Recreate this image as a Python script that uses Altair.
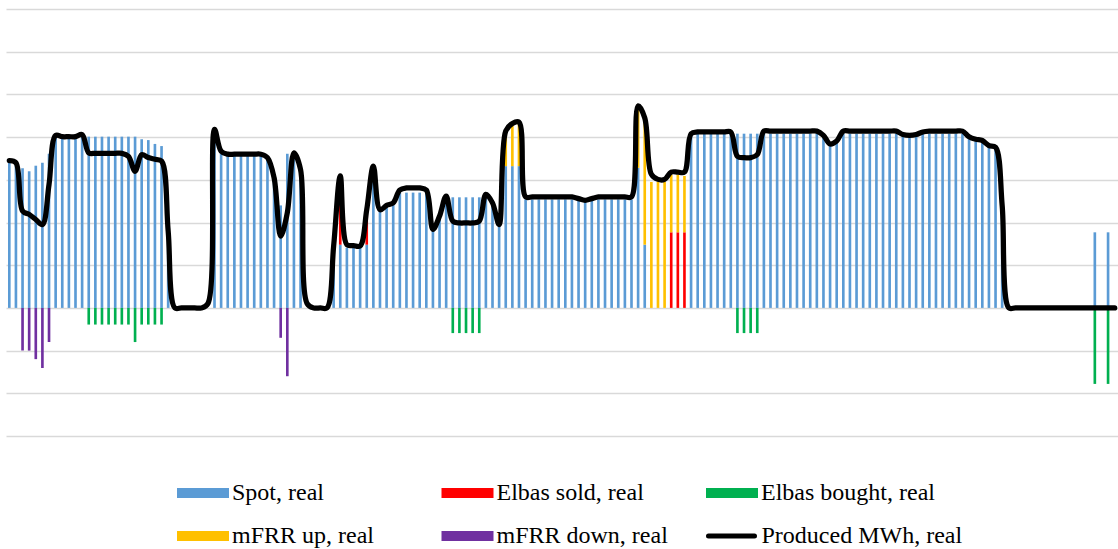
import altair as alt
import pandas as pd

# Series names (legend order) and their colours
SERIES = ["Spot, real", "Elbas sold, real", "Elbas bought, real",
          "mFRR up, real", "mFRR down, real", "Produced MWh, real"]
COLORS = ["#5B9BD5", "#FF0000", "#00B050", "#FFC000", "#7030A0", "#000000"]

HOURS = list(range(168))

# Hourly spot volume
spot = [
    34.8, 34.0, 32.7, 32.0, 33.3, 34.0, 36.1, 40.1, 40.1, 40.1,
    40.1, 40.1, 40.1, 40.1, 40.1, 40.1, 40.1, 40.1, 40.1, 40.1,
    39.5, 39.3, 38.4, 37.9, 18.0, 0.0, 0.0, 0.0, 0.0, 0.0,
    0.0, 41.5, 36.1, 36.1, 36.1, 36.1, 36.1, 36.1, 36.1, 35.5,
    30.5, 24.0, 36.1, 36.3, 32.4, 0.0, 0.0, 0.0, 0.0, 14.5,
    14.8, 14.1, 14.1, 14.1, 14.8, 33.2, 23.0, 24.0, 24.6, 27.0,
    27.0, 27.0, 27.0, 27.0, 18.4, 21.5, 26.0, 25.9, 25.9, 25.9,
    25.9, 25.9, 26.0, 24.6, 19.5, 33.2, 33.2, 33.2, 25.4, 25.4,
    25.4, 25.4, 25.4, 25.4, 25.4, 25.4, 25.4, 25.4, 25.4, 25.4,
    25.4, 25.4, 25.4, 25.4, 25.4, 32.8, 14.8, 0.0, 0.0, 0.0,
    0.0, 0.0, 0.0, 40.8, 40.8, 40.8, 40.8, 40.8, 40.8, 40.8,
    40.8, 40.8, 40.8, 40.8, 40.8, 40.8, 40.8, 40.8, 40.8, 40.8,
    40.8, 40.8, 40.8, 40.0, 38.4, 39.0, 40.8, 40.8, 40.8, 40.8,
    40.8, 40.8, 40.8, 40.8, 40.8, 40.8, 40.8, 40.8, 40.8, 40.8,
    40.8, 40.8, 40.8, 40.8, 40.8, 40.0, 39.0, 38.6, 38.2, 37.8,
    22.0, 0.0, 0.0, 0.0, 0.0, 0.0, 0.0, 0.0, 0.0, 0.0,
    0.0, 0.0, 0.0, 0.0, 17.7, 0.0, 17.7, 0.0,
]

# Intraday and balancing volumes, by hour
elbas_sold = {50: 14.0, 54: 8.2, 100: 17.7, 101: 17.7, 102: 17.7}
elbas_bought = {
    12: -3.9, 13: -3.9, 14: -3.9, 15: -3.9, 16: -3.9, 17: -3.9, 18: -3.9,
    19: -8.0, 20: -3.9, 21: -3.9, 22: -3.9, 23: -3.9,
    67: -5.9, 68: -5.9, 69: -5.9, 70: -5.9, 71: -5.9,
    110: -5.9, 111: -5.9, 112: -5.9, 113: -5.9,
    164: -17.8, 166: -17.8,
}
mfrr_up = {75: 8.0, 76: 10.0, 77: 10.2, 95: 14.5, 96: 29.7, 97: 29.5,
           98: 29.5, 99: 29.5, 100: 13.5, 101: 13.5, 102: 13.2}
mfrr_down = {2: -10.0, 3: -10.0, 4: -12.0, 5: -14.1, 6: -8.0,
             41: -7.0, 42: -16.0}

# Hourly production
produced = [
    34.5, 34.0, 22.7, 21.9, 20.7, 19.5, 28.9, 40.4, 40.1, 40.1,
    40.1, 40.6, 36.3, 36.2, 36.2, 36.2, 36.2, 36.2, 35.5, 32.0,
    35.9, 35.2, 34.8, 34.4, 18.0, 0.0, 0.0, 0.0, 0.0, 0.0,
    1.0, 41.8, 36.7, 36.0, 36.0, 36.0, 36.0, 36.0, 36.0, 35.2,
    30.5, 16.8, 22.3, 36.3, 32.4, 1.0, 0.0, 0.0, 0.0, 14.5,
    30.9, 14.8, 14.6, 14.5, 23.0, 33.2, 23.0, 24.0, 24.6, 27.6,
    28.1, 28.1, 28.1, 27.6, 18.4, 21.5, 26.2, 20.3, 19.9, 19.9,
    19.9, 20.3, 26.6, 24.6, 19.5, 41.4, 43.2, 43.5, 26.0, 26.0,
    26.0, 26.0, 26.0, 26.0, 26.0, 26.0, 25.6, 25.2, 25.6, 26.0,
    26.0, 26.0, 26.0, 26.0, 26.0, 47.3, 44.5, 31.3, 30.1, 30.1,
    31.8, 31.8, 31.8, 40.8, 41.2, 41.2, 41.2, 41.2, 41.2, 41.2,
    35.5, 35.2, 35.2, 35.9, 41.4, 41.4, 41.4, 41.4, 41.4, 41.4,
    41.4, 41.4, 41.4, 40.4, 38.4, 39.1, 41.4, 41.4, 41.4, 41.4,
    41.4, 41.4, 41.4, 41.4, 41.4, 40.6, 40.4, 40.6, 41.2, 41.4,
    41.4, 41.4, 41.4, 41.4, 41.4, 40.1, 39.5, 39.2, 38.0, 37.6,
    24.0, 0.0, 0.0, 0.0, 0.0, 0.0, 0.0, 0.0, 0.0, 0.0,
    0.0, 0.0, 0.0, 0.0, 0.0, 0.0, 0.0, 0.0,
]

# Horizontal gridlines
GRID_VALUES = [-30, -20, -10, 0, 10, 20, 30, 40, 50, 60, 70]

# Long table for the stacked columns
rows = [{"hour": h, "series": SERIES[0], "value": v, "order": 0}
        for h, v in zip(HOURS, spot)]
for k, series in ((1, elbas_sold), (2, elbas_bought), (3, mfrr_up), (4, mfrr_down)):
    rows += [{"hour": h, "series": SERIES[k], "value": v, "order": k}
             for h, v in series.items()]
bars_df = pd.DataFrame(rows)
line_df = pd.DataFrame({"hour": HOURS, "produced": produced, "series": SERIES[5]})

x_enc = alt.X("hour:O",
              scale=alt.Scale(domain=HOURS, paddingInner=0.6, paddingOuter=0.3),
              axis=None)
y_scale = alt.Scale(domain=[GRID_VALUES[0], GRID_VALUES[-1]], nice=False, zero=False)

# Legend swatches: a wide flat box for the columns, a rounded bar for the line
BOX = "M-5.2,-1H5.2V1H-5.2Z"
PILL = "M-4.6,-0.25H4.6A0.25,0.25 0 0 1 4.6,0.25H-4.6A0.25,0.25 0 0 1 -4.6,-0.25Z"
LABEL_STYLE = dict(labelFont="Liberation Serif", labelFontSize=24,
                   labelColor="#000000", labelLimit=0)

bar_legend = alt.Legend(
    title=None, orient="none", legendX=171, legendY=472,
    columns=3, direction="horizontal", gridAlign="all", padding=0,
    symbolSize=100, symbolType=BOX, symbolOffset=14, symbolStrokeWidth=0,
    labelOffset=17, columnPadding=35.5, rowPadding=19, **LABEL_STYLE,
)
line_legend = alt.Legend(
    title=None, orient="none", legendX=700, legendY=515, padding=0,
    symbolSize=100, symbolType=PILL, symbolOffset=13.5, symbolStrokeWidth=2.5,
    labelOffset=18, **LABEL_STYLE,
)

bars = alt.Chart(bars_df).mark_bar().encode(
    x=x_enc,
    y=alt.Y("value:Q", stack="zero", scale=y_scale,
            axis=alt.Axis(values=GRID_VALUES, grid=True, labels=False, ticks=False,
                          domain=False, title=None, gridColor="#D9D9D9",
                          gridWidth=1.6)),
    color=alt.Color("series:N", scale=alt.Scale(domain=SERIES[:5], range=COLORS[:5]),
                    legend=bar_legend),
    order=alt.Order("order:Q"),
)

line = alt.Chart(line_df).mark_line(
    interpolate="catmull-rom", strokeWidth=5.25,
    strokeCap="round", strokeJoin="round",
).encode(
    x=x_enc,
    y=alt.Y("produced:Q", scale=y_scale),
    stroke=alt.Stroke("series:N",
                      scale=alt.Scale(domain=SERIES[5:], range=COLORS[5:]),
                      legend=line_legend),
)

chart = alt.layer(bars, line).resolve_scale(color="independent").properties(
    width=1112, height=427,
    padding={"left": 6, "top": 9, "right": 0, "bottom": 113},
    autosize=alt.AutoSizeParams(type="none"),
    background="#FFFFFF",
).configure_view(stroke=None)

chart.save("out.html", embed_options={"renderer": "svg", "actions": False})
